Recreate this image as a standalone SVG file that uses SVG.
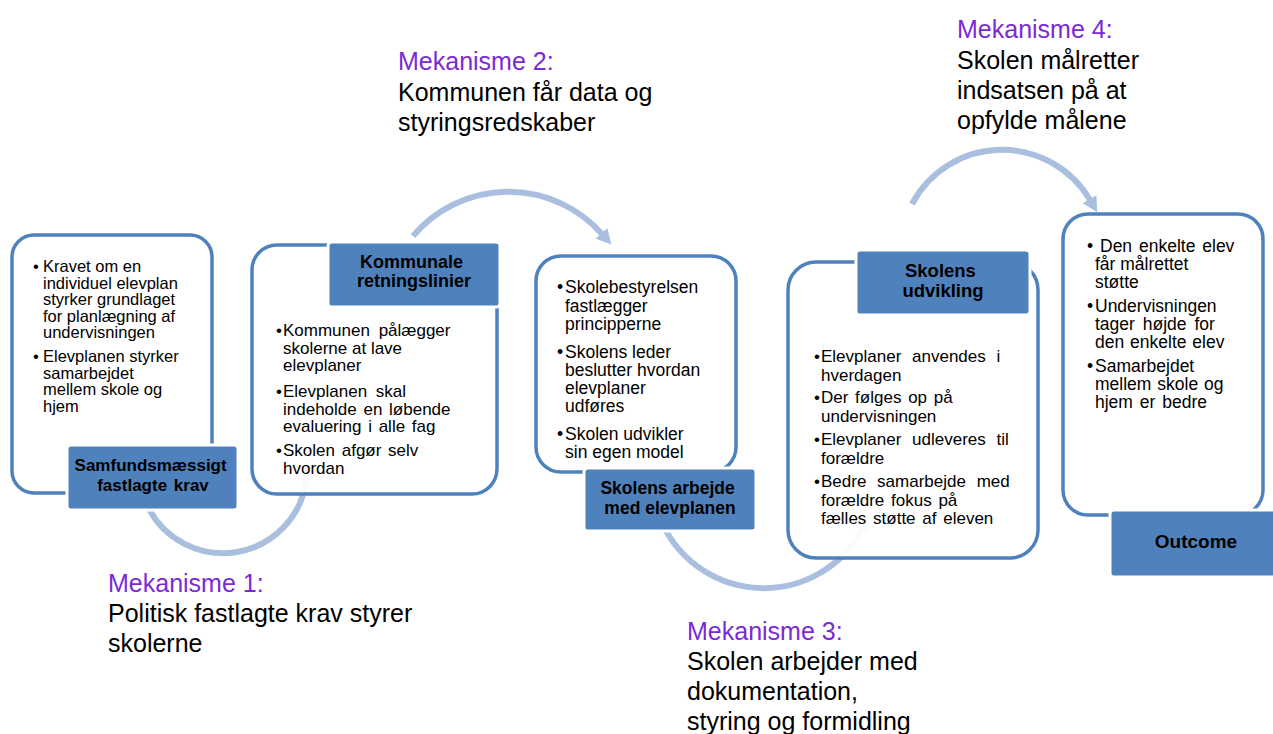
<svg xmlns="http://www.w3.org/2000/svg" width="1273" height="734" viewBox="0 0 1273 734">
  <style>
    .frame { fill: #ffffff; fill-opacity: 0.93; stroke: #4f81bd; stroke-width: 3.5; }
    .tab { fill: #4f81bd; stroke: #ffffff; stroke-width: 3; }
    .tabtxt { font-family: "Liberation Sans", Arial, sans-serif; font-weight: bold; fill: #000000; text-anchor: middle; }
    .body { font-family: "Liberation Sans", Arial, sans-serif; fill: #000000; }
    .flow { fill: none; stroke: #aabfdf; stroke-width: 6; }
    .mech { font-family: "Liberation Sans", Arial, sans-serif; font-size: 25px; fill: #000000; }
    .mech .head { fill: #7b2ad6; }
  </style>
  <defs>
    <marker id="tip" markerUnits="userSpaceOnUse" markerWidth="18" markerHeight="18" refX="1" refY="8" orient="auto">
      <path d="M0,0 L15,8 L0,16 z" fill="#aabfdf"/>
    </marker>
  </defs>
  <rect width="1273" height="734" fill="#ffffff"/>

  <!-- curved arrows linking the stages -->
  <g id="connectors">
    <path class="flow" d="M147,505 A84,84 0 0 0 306.5,478" marker-end="url(#tip)"/>
    <path class="flow" d="M413,236 A125,125 0 0 1 602,234" marker-end="url(#tip)"/>
    <path class="flow" d="M663,525 A112,112 0 0 0 862,530" marker-end="url(#tip)"/>
    <path class="flow" d="M912,204 A102,102 0 0 1 1090,200" marker-end="url(#tip)"/>
  </g>

  <!-- stage 1 -->
  <g id="stage1">
    <rect class="frame" x="12" y="235" width="200" height="258" rx="22"/>
    <text class="body" font-size="16.5">
      <tspan x="33" y="272">•</tspan><tspan x="43" y="272">Kravet om en</tspan>
      <tspan x="43" y="288.5">individuel elevplan</tspan>
      <tspan x="43" y="305">styrker grundlaget</tspan>
      <tspan x="43" y="321.5">for planlægning af</tspan>
      <tspan x="43" y="338">undervisningen</tspan>
      <tspan x="33" y="362">•</tspan><tspan x="43" y="362">Elevplanen styrker</tspan>
      <tspan x="43" y="378.5">samarbejdet</tspan>
      <tspan x="43" y="395">mellem skole og</tspan>
      <tspan x="43" y="411.5">hjem</tspan>
    </text>
    <rect class="tab" x="67" y="445" width="171" height="65" rx="4"/>
    <text class="tabtxt" font-size="17">
      <tspan x="153" y="471">Samfundsmæssigt</tspan>
      <tspan x="153" y="491" word-spacing="2">fastlagte krav</tspan>
    </text>
  </g>

  <!-- stage 2 -->
  <g id="stage2">
    <rect class="frame" x="252" y="245" width="245" height="249" rx="25"/>
    <rect class="tab" x="328" y="242" width="172" height="65" rx="4"/>
    <text class="tabtxt" font-size="18">
      <tspan x="414" y="268">Kommunale</tspan>
      <tspan x="414" y="287">retningslinier</tspan>
    </text>
    <text class="body" font-size="17">
      <tspan x="276" y="336">•</tspan><tspan x="283" y="336" word-spacing="4">Kommunen pålægger</tspan>
      <tspan x="283" y="353.5">skolerne at lave</tspan>
      <tspan x="283" y="371">elevplaner</tspan>
      <tspan x="276" y="397">•</tspan><tspan x="283" y="397" word-spacing="4">Elevplanen skal</tspan>
      <tspan x="283" y="414.5" word-spacing="2">indeholde en løbende</tspan>
      <tspan x="283" y="432" word-spacing="2">evaluering i alle fag</tspan>
      <tspan x="276" y="456">•</tspan><tspan x="283" y="456" word-spacing="2">Skolen afgør selv</tspan>
      <tspan x="283" y="473.5">hvordan</tspan>
    </text>
  </g>

  <!-- stage 3 -->
  <g id="stage3">
    <rect class="frame" x="536" y="256" width="200" height="216" rx="25"/>
    <text class="body" font-size="17.5">
      <tspan x="557" y="293">•</tspan><tspan x="565" y="293">Skolebestyrelsen</tspan>
      <tspan x="565" y="311.5">fastlægger</tspan>
      <tspan x="565" y="330">principperne</tspan>
      <tspan x="557" y="358">•</tspan><tspan x="565" y="358">Skolens leder</tspan>
      <tspan x="565" y="376">beslutter hvordan</tspan>
      <tspan x="565" y="394">elevplaner</tspan>
      <tspan x="565" y="412">udføres</tspan>
      <tspan x="557" y="440">•</tspan><tspan x="565" y="440">Skolen udvikler</tspan>
      <tspan x="565" y="458">sin egen model</tspan>
    </text>
    <rect class="tab" x="584" y="468" width="172" height="63" rx="4"/>
    <text class="tabtxt" font-size="17.5">
      <tspan x="670" y="494">Skolens arbejde</tspan>
      <tspan x="670" y="514">med elevplanen</tspan>
    </text>
  </g>

  <!-- stage 4 -->
  <g id="stage4">
    <rect class="frame" x="788" y="262" width="250" height="296" rx="28"/>
    <rect class="tab" x="856" y="250" width="174" height="65" rx="4"/>
    <text class="tabtxt" font-size="18.5">
      <tspan x="943" y="277">Skolens</tspan>
      <tspan x="943" y="297">udvikling</tspan>
    </text>
    <text class="body" font-size="17">
      <tspan x="814" y="362">•</tspan><tspan x="821" y="362" word-spacing="6">Elevplaner anvendes i</tspan>
      <tspan x="821" y="380.5">hverdagen</tspan>
      <tspan x="814" y="403">•</tspan><tspan x="821" y="403" word-spacing="2">Der følges op på</tspan>
      <tspan x="821" y="421.5">undervisningen</tspan>
      <tspan x="814" y="445">•</tspan><tspan x="821" y="445" word-spacing="6">Elevplaner udleveres til</tspan>
      <tspan x="821" y="463.5">forældre</tspan>
      <tspan x="814" y="487">•</tspan><tspan x="821" y="487" word-spacing="6">Bedre samarbejde med</tspan>
      <tspan x="821" y="505.5" word-spacing="2">forældre fokus på</tspan>
      <tspan x="821" y="524" word-spacing="2">fælles støtte af eleven</tspan>
    </text>
  </g>

  <!-- stage 5 -->
  <g id="stage5">
    <rect class="frame" x="1063" y="214" width="200" height="301" rx="25"/>
    <text class="body" font-size="17.5">
      <tspan x="1087" y="252">•</tspan><tspan x="1100" y="252" word-spacing="2">Den enkelte elev</tspan>
      <tspan x="1095" y="270">får målrettet</tspan>
      <tspan x="1095" y="288">støtte</tspan>
      <tspan x="1087" y="312">•</tspan><tspan x="1095" y="312">Undervisningen</tspan>
      <tspan x="1095" y="330" word-spacing="3">tager højde for</tspan>
      <tspan x="1095" y="348" word-spacing="1">den enkelte elev</tspan>
      <tspan x="1087" y="372">•</tspan><tspan x="1095" y="372">Samarbejdet</tspan>
      <tspan x="1095" y="390" word-spacing="1">mellem skole og</tspan>
      <tspan x="1095" y="408" word-spacing="2">hjem er bedre</tspan>
    </text>
    <rect class="tab" x="1110" y="510" width="175" height="67" rx="4"/>
    <text class="tabtxt" font-size="19">
      <tspan x="1196" y="548">Outcome</tspan>
    </text>
  </g>

  <!-- mechanism captions -->
  <g id="mechanism1">
    <text class="mech">
      <tspan class="head" x="108" y="592">Mekanisme 1:</tspan>
      <tspan x="108" y="622">Politisk fastlagte krav styrer</tspan>
      <tspan x="108" y="652">skolerne</tspan>
    </text>
  </g>
  <g id="mechanism2">
    <text class="mech">
      <tspan class="head" x="398" y="70">Mekanisme 2:</tspan>
      <tspan x="398" y="101">Kommunen får data og</tspan>
      <tspan x="398" y="131">styringsredskaber</tspan>
    </text>
  </g>
  <g id="mechanism3">
    <text class="mech">
      <tspan class="head" x="687" y="640">Mekanisme 3:</tspan>
      <tspan x="687" y="670">Skolen arbejder med</tspan>
      <tspan x="687" y="700">dokumentation,</tspan>
      <tspan x="687" y="730">styring og formidling</tspan>
    </text>
  </g>
  <g id="mechanism4">
    <text class="mech">
      <tspan class="head" x="957" y="38">Mekanisme 4:</tspan>
      <tspan x="957" y="69">Skolen målretter</tspan>
      <tspan x="957" y="99">indsatsen på at</tspan>
      <tspan x="957" y="129">opfylde målene</tspan>
    </text>
  </g>
</svg>
